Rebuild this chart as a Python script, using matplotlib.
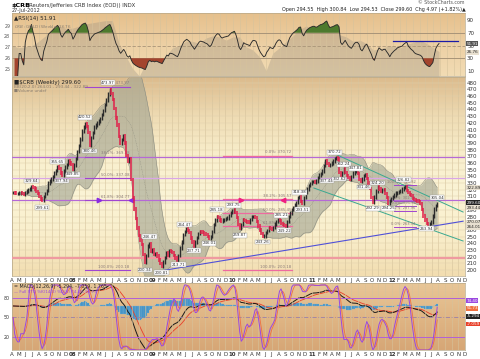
import numpy as np
import pandas as pd
import matplotlib
matplotlib.use("Agg")
import matplotlib.pyplot as plt
from matplotlib.colors import LinearSegmentedColormap

# weekly closes of $CRB, 6-Apr-2007 .. 27-Jul-2012
closes = [
    316, 315, 314, 314, 315, 315, 314, 313, 316, 318,
    320, 321, 325, 323, 321, 317, 314, 310, 306, 304,
    310, 314, 319, 330, 333, 336, 340, 345, 349, 354,
    352, 345, 342, 348, 354, 358, 363, 360, 358, 351,
    357, 367, 377, 386, 396, 408, 414, 419, 415, 406,
    386, 398, 406, 414, 417, 420, 423, 426, 432, 438,
    447, 454, 463, 470, 464, 455, 441, 427, 417, 400,
    389, 395, 401, 390, 371, 362, 366, 335, 308, 291,
    277, 263, 252, 245, 238, 223, 212, 222, 236, 240,
    228, 230, 223, 225, 221, 215, 210, 205, 212, 219,
    226, 222, 229, 228, 226, 222, 218, 215, 222, 233,
    242, 253, 258, 262, 259, 256, 248, 242, 236, 242,
    249, 255, 258, 257, 256, 254, 253, 250, 247, 250,
    258, 268, 275, 280, 279, 275, 273, 275, 276, 277,
    278, 282, 286, 288, 290, 286, 279, 268, 263, 268,
    276, 274, 273, 272, 271, 276, 280, 280, 279, 273,
    266, 260, 255, 250, 251, 256, 259, 263, 262, 261,
    264, 269, 273, 275, 274, 270, 268, 267, 266, 273,
    280, 285, 290, 293, 297, 301, 308, 309, 302, 299,
    308, 316, 321, 326, 329, 332, 332, 331, 333, 338,
    342, 344, 348, 356, 363, 359, 356, 358, 360, 363,
    367, 368, 366, 346, 342, 346, 351, 346, 341, 338,
    336, 340, 345, 347, 347, 344, 335, 332, 336, 341,
    343, 337, 330, 322, 308, 301, 309, 318, 325, 321,
    318, 320, 320, 314, 308, 299, 304, 307, 310, 312,
    315, 316, 317, 318, 321, 323, 325, 319, 316, 313,
    311, 307, 305, 304, 303, 302, 299, 290, 281, 275,
    270, 268, 270, 272, 281, 291, 296, 299.6,
]

# grey background series of the top panel, one value per month (Apr-07 .. Jul-12)
ratio_vals = [
    27.2, 27.0, 27.1, 27.2, 27.6, 28.1, 28.5, 29.0, 28.8, 28.8,
    29.0, 29.2, 29.3, 29.4, 29.5, 29.5, 27.4, 26.2, 25.1, 24.4,
    25.6, 26.2, 25.7, 26.2, 27.0, 27.2, 27.6, 27.6, 27.4, 27.9,
    28.1, 28.0, 27.7, 28.0, 28.0, 27.1, 26.8, 26.2, 24.9, 26.5,
    27.0, 27.6, 28.1, 28.7, 29.0, 28.7, 28.9, 29.0, 28.8, 28.2,
    28.0, 27.6, 27.7, 27.4, 26.8, 26.9, 27.1, 27.2, 27.0, 27.3,
    27.5, 27.7, 27.4, 27.0, 26.65,
]

price_ticks = list(range(200, 490, 10))
rsi_ticks = [90, 70, 50, 30, 10]
ratio_ticks = [29, 28, 27, 26, 25]

# fibonacci sets: (low, high)
fib_big = (200.18, 473.97)
fib_mid = (200.18, 370.72)
fib_small = (263.94, 326.82)
fib_levels = [0.0, 0.382, 0.5, 0.618, 1.0]

W, H = 480, 359
start = pd.Timestamp("2007-04-06")
idx = np.arange(len(closes))
s = pd.Series(closes, dtype=float)

def box(x0, y0, x1, y1):
    return [x0 / W, 1 - y1 / H, (x1 - x0) / W, (y1 - y0) / H]

def wk(d):
    return (pd.Timestamp(d) - start).days / 7.0

XL = (-0.65, 293.9)
months = pd.date_range("2007-04-01", "2012-12-01", freq="MS")
mpos = [wk(d) for d in months]
mlab = [d.strftime("%y") if d.month == 1 else d.strftime("%b")[0] for d in months]

fig = plt.figure(figsize=(W / 100, H / 100), dpi=100)
fig.patch.set_facecolor("white")

def panel(rect, colors):
    bg = fig.add_axes(rect)
    cm = LinearSegmentedColormap.from_list("g", colors)
    bg.imshow(np.linspace(0, 1, 256).reshape(-1, 1), cmap=cm, aspect="auto",
              extent=(0, 1, 0, 1))
    bg.set_axis_off()
    a = fig.add_axes(rect)
    a.patch.set_visible(False)
    a.set_xlim(*XL)
    for sp in a.spines.values():
        sp.set_color("#b8a98a")
        sp.set_linewidth(0.5)
    a.tick_params(length=0, labelsize=4, colors="#333333", pad=1.5)
    for p in mpos:
        a.axvline(p, color="#d6c39c", lw=0.4, zorder=0.5)
    return a

def month_labels(a):
    a.set_xticks(mpos)
    a.set_xticklabels(mlab)
    for lab, m in zip(a.get_xticklabels(), months):
        if m.month == 1:
            lab.set_fontweight("bold")

def badge(a, y, txt, fc, tc="white"):
    a.text(1.003, y, txt, transform=a.get_yaxis_transform(), fontsize=3.0, va="center",
           color=tc, bbox=dict(boxstyle="square,pad=0.1", fc=fc, ec="none"),
           zorder=7, clip_on=False)

# ---------------- indicators ----------------
delta = s.diff().fillna(0)
gain = delta.clip(lower=0).ewm(alpha=1 / 14, adjust=False).mean()
loss = (-delta.clip(upper=0)).ewm(alpha=1 / 14, adjust=False).mean()
rsi = 100 - 100 / (1 + gain / loss)

mid = s.rolling(20, min_periods=5).mean()
sd = s.rolling(20, min_periods=5).std(ddof=0)
upper, lower = mid + 2 * sd, mid - 2 * sd

macd = s.ewm(span=12, adjust=False).mean() - s.ewm(span=26, adjust=False).mean()
signal = macd.ewm(span=9, adjust=False).mean()
hist = macd - signal

hh = s.rolling(14, min_periods=1).max()
ll = s.rolling(14, min_periods=1).min()
fast_k = (100 * (s - ll) / (hh - ll)).fillna(50)
full_k = fast_k.rolling(4, min_periods=1).mean()
full_d = full_k.rolling(3, min_periods=1).mean()

# ---------------- RSI panel ----------------
ax_r = panel(box(12, 13, 465, 76), ["#e6c08c", "#edd0a4", "#f2dcb4"])
ax_r2 = ax_r.twinx()
ax_r2.patch.set_visible(False)
ratio_x = [wk(d) for d in months[:len(ratio_vals) - 1]] + [idx[-1]]
ax_r2.fill_between(ratio_x, ratio_vals, 20, color="#9c9282", alpha=0.35, lw=0)
ax_r2.set_ylim(24.4, 30.2)
ax_r2.set_xlim(*XL)
ax_r2.set_yticks([])
for sp in ax_r2.spines.values():
    sp.set_visible(False)
ax_r.set_zorder(ax_r2.get_zorder() + 1)
for lv in (70, 30):
    ax_r.axhline(lv, color="#a89478", lw=0.7, zorder=2)
ax_r.axhline(50, color="#a89478", lw=0.6, ls=(0, (4, 2)), zorder=2)
ax_r.fill_between(idx, rsi, 70, where=rsi > 70, color="#4d7a2e", lw=0, zorder=3, interpolate=True)
ax_r.fill_between(idx, rsi, 30, where=rsi < 30, color="#a3442d", lw=0, zorder=3, interpolate=True)
ax_r.plot(idx, rsi, color="#2a2a2a", lw=0.65, zorder=4)
ax_r.plot([wk("2012-01-01"), wk("2012-10-20")], [57, 57], color="#1a1aa8", lw=0.9, zorder=4)
ax_r.set_ylim(2.2, 101)
ax_r.yaxis.tick_right()
ax_r.set_yticks(rsi_ticks)
ax_r.set_yticklabels([str(t) for t in rsi_ticks])
ax_r.set_xticks([])
for t in ratio_ticks:
    yv = 2.2 + (t - 24.4) / (30.2 - 24.4) * (101 - 2.2)
    ax_r.text(-0.004, yv, str(t), transform=ax_r.get_yaxis_transform(), fontsize=3.4,
              ha="right", va="center", color="#555555", clip_on=False)
ax_r.text(0.005, 0.96, "\u25b2RSI(14) 51.91", transform=ax_r.transAxes, fontsize=4,
          va="top", color="#222222", zorder=6)
ax_r.text(0.005, 0.84, "$CRB:$GOLD (Weekly) 26.76", transform=ax_r.transAxes,
          fontsize=3.0, va="top", color="#8a7e70", zorder=6)
badge(ax_r, 53, "51.91", "#555555")
badge(ax_r, 2.2 + (26.76 - 24.4) / 5.8 * 98.8 - 3, "26.76", "#e8e0d0", "#222222")

# ---------------- price panel ----------------
ax = panel(box(12, 77, 465, 276),
           ["#dcbb8c", "#efdcb4", "#f9efcd", "#fbf4d6", "#f9eecb", "#f2ddb0"])
for t in price_ticks:
    ax.axhline(t, color="#e0d0ac", lw=0.35, zorder=0.5)

ax.fill_between(idx, lower, upper, color="#a2a492", alpha=0.62, lw=0, zorder=2)
ax.plot(idx, upper, color="#8a8a7e", lw=0.35, zorder=2)
ax.plot(idx, lower, color="#8a8a7e", lw=0.35, zorder=2)
ax.plot(idx, mid, color="#8a8a7e", lw=0.3, ls=(0, (2, 2)), zorder=2)

# fib lines
lo, hi = fib_big
for f in fib_levels[1:4]:
    v = lo + f * (hi - lo)
    ax.axhline(v, color="#b569d6" if f != 0.5 else "#d9a6e6", lw=0.9, zorder=3)
for f in fib_levels:
    v = lo + f * (hi - lo)
    ax.plot([wk("2008-03-01"), wk("2008-09-20")], [v, v], color="#a045d0", lw=0.8, zorder=3)
    ax.text(wk("2008-09-18"), v + 2, "%.1f%%: %.2f" % ((1 - f) * 100, v), fontsize=2.8,
            color="#8a7a7a", ha="right", va="bottom", zorder=4)
ax.axhline(217.5, color="#ef9aa0", lw=1.6, zorder=3)
lo, hi = fib_mid
for f in fib_levels:
    v = hi - f * (hi - lo)
    ax.plot([wk("2009-11-20"), wk("2010-09-30")], [v, v], color="#ee6aa0", lw=0.9, zorder=3)
    ax.text(wk("2010-09-28"), v + 2, "%.1f%%: %.2f" % (f * 100, v), fontsize=2.8,
            color="#8a7a7a", ha="right", va="bottom", zorder=4)
lo, hi = fib_small
for f in fib_levels:
    v = lo + f * (hi - lo)
    ax.plot([wk("2012-01-10"), wk("2012-04-20")], [v, v], color="#a045d0", lw=0.7, zorder=3)
    ax.text(wk("2012-04-18"), v + 1.5, "%.1f%%: %.2f" % (f * 100, v), fontsize=2.6,
            color="#8a7a7a", ha="right", va="bottom", zorder=4)

# trend lines
ax.plot([95.6, 293.9], [198.5, 273.0], color="#5050d8", lw=0.8, zorder=3)
ax.plot([207.4, 293.9], [376.4, 286.7], color="#3aa890", lw=0.7, zorder=3)
ax.plot([196.4, 293.9], [322.6, 243.4], color="#3aa890", lw=0.7, zorder=3)

# arrows
for d, col, mk in [("2008-05-01", "#8a2be2", ">"), ("2008-09-25", "#8a2be2", "<"),
                   ("2010-02-10", "#f02080", ">"), ("2010-08-20", "#f02080", "<")]:
    ax.plot(wk(d), 305, marker=mk, color=col, ms=3.2, zorder=5)

# candles
opens = np.r_[closes[0], closes[:-1]]
cl = np.array(closes, dtype=float)
up = cl >= opens
ax.vlines(idx[up], np.minimum(opens, cl)[up] - 2.5, np.maximum(opens, cl)[up] + 2.5,
          color="#2b2b2b", lw=1.0, zorder=5)
ax.vlines(idx[~up], np.minimum(opens, cl)[~up] - 2.5, np.maximum(opens, cl)[~up] + 2.5,
          color="#e0204a", lw=1.1, zorder=5)

# price labels
notes = [(12, 333, "329.64"), (19, 293, "299.61"), (29, 362, "355.65"), (32, 333, "337.94"),
         (39, 343, "349.85"), (47, 428, "420.52"), (50, 378, "380.46"), (62, 480, "473.97"),
         (89, 250, "246.47"), (86, 200, "200.34"), (97, 196, "200.81"), (108, 208, "213.71"),
         (112, 268, "264.47"), (118, 229, "237.71"), (128, 240, "246.01"), (133, 290, "285.18"),
         (144, 297, "293.75"), (148, 252, "259.87"), (163, 242, "243.26"), (175, 282, "285.21"),
         (177, 259, "249.22"), (187, 316, "318.38"), (189, 290, "293.51"), (210, 376, "370.72"),
         (205, 333, "337.44"), (213, 336, "332.62"), (216, 358, "362.24"), (224, 352, "347.81"),
         (229, 324, "331.46"), (235, 292, "292.29"), (238, 330, "324.20"), (245, 292, "294.25"),
         (255, 335, "326.82"), (270, 262, "263.94"), (277, 308, "305.04")]
for i, v, t in notes:
    ax.text(i, v, t, fontsize=2.8, ha="center", va="center", color="#333333", zorder=6,
            bbox=dict(boxstyle="square,pad=0.1", fc="white", ec="#999999", lw=0.3))

ax.set_ylim(191.1, 488.5)
ax.yaxis.tick_right()
ax.set_yticks(price_ticks)
ax.set_yticklabels([str(t) for t in price_ticks])
month_labels(ax)
badge(ax, 322.89, "322.89", "#e8e0d0", "#222222")
badge(ax, 300.5, "299.60", "#222222")
badge(ax, 293.0, "293.44", "#e8e0d0", "#222222")
badge(ax, 271.5, "270.07", "#e8e0d0", "#222222")
badge(ax, 264.0, "264.01", "#e8e0d0", "#222222")
ax.text(0.005, 0.985, "\u25a0$CRB (Weekly) 299.60", transform=ax.transAxes, fontsize=4,
        va="top", color="#222222", zorder=6)
ax.text(0.005, 0.962, "BB(20,2.0) 264.01 - 293.44 - 322.89", transform=ax.transAxes,
        fontsize=3.0, va="top", color="#8a7e70", zorder=6)
ax.text(0.005, 0.94, "\u25a0Volume undef", transform=ax.transAxes, fontsize=3.0,
        va="top", color="#8a7e70", zorder=6)

# ---------------- MACD / stochastic panel ----------------
ax_m = panel(box(12, 283, 465, 350), ["#e8c697", "#e0b685", "#d6a676"])
ax_m2 = ax_m.twinx()
ax_m2.patch.set_visible(False)
ax_m2.bar(idx, hist, width=1.0, color="#3d8fc4", edgecolor="#7fb6d8", lw=0.2, zorder=2)
ax_m2.plot(idx, signal, color="#e8402a", lw=0.6, zorder=3)
ax_m2.plot(idx, macd, color="#1a1a1a", lw=0.7, zorder=3)
mlo = macd.min() * 1.03
ax_m2.set_ylim(mlo, mlo * -0.522)
ax_m2.set_xlim(*XL)
ax_m2.set_yticks([])
for sp in ax_m2.spines.values():
    sp.set_visible(False)
ax_m.set_zorder(ax_m2.get_zorder() + 1)
for lv in (80, 20):
    ax_m.axhline(lv, color="#b060d8", lw=0.7, zorder=2)
ax_m.axhline(50, color="#9a80a8", lw=0.6, ls=(0, (5, 2, 1, 2)), zorder=2)
ax_m.plot(idx, full_d, color="#f07040", lw=0.6, zorder=4)
ax_m.plot(idx, full_k, color="#9a48e0", lw=0.7, zorder=5)
ax_m.set_ylim(0, 103)
ax_m.set_yticks([80, 50, 20])
ax_m.set_yticklabels(["80", "50", "20"])
for t in ax_m.get_yticklabels():
    t.set_fontsize(3.4)
month_labels(ax_m)
badge(ax_m, 76, "74.40", "#9a48e0")
badge(ax_m, 64, "51.73", "#f07040")
badge(ax_m, 52, "-5.294", "#222222")
badge(ax_m, 40, "-7.059", "#e8402a")
ax_m.text(0.005, 0.98, "= MACD(12,26,9) -5.294, -7.059, 1.765", transform=ax_m.transAxes,
          fontsize=3.4, va="top", color="#222222", zorder=6)
ax_m.text(0.005, 0.89, "\u2014 Full STO %K(14,3) %D(3) 74.40, 51.73", transform=ax_m.transAxes,
          fontsize=3.0, va="top", color="#9a48e0", zorder=6)

# ---------------- header ----------------
fig.text(12 / W, 1 - 5 / H, "$CRB", fontsize=4.6, fontweight="bold", va="center")
fig.text(27 / W, 1 - 5 / H, "(Reuters/Jefferies CRB Index (EOD)) INDX", fontsize=3.8,
         va="center", color="#333333")
fig.text(12 / W, 1 - 10.5 / H, "27-Jul-2012", fontsize=3.6, va="center", color="#333333")
fig.text(465 / W, 1 - 3 / H, "\u00a9 StockCharts.com", fontsize=3.4, ha="right",
         va="center", color="#555555")
fig.text(466 / W, 1 - 9 / H,
         "Open 294.55  High 300.84  Low 294.53  Close 299.60  Chg 4.97 (+1.82%)\u25b2",
         fontsize=3.5, ha="right", va="center", color="#222222")

fig.savefig("out.png", dpi=100, facecolor="white")
